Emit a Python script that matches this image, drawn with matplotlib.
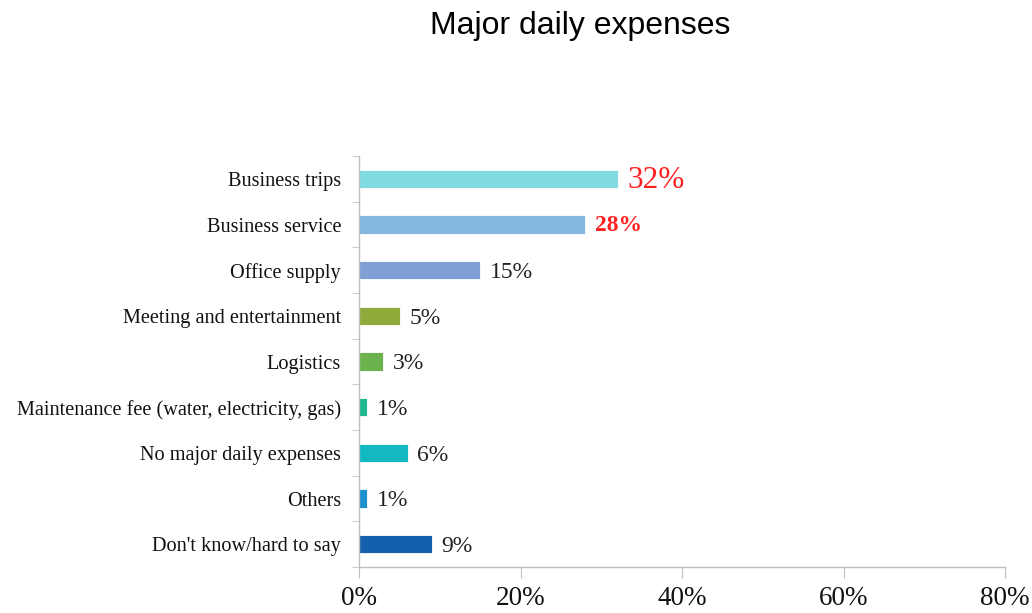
import numpy as np
import matplotlib
matplotlib.use("Agg")
import matplotlib.pyplot as plt

# ── Data ─────────────────────────────────────────────────────────────────────
categories = ["Business trips", "Business service", "Office supply",
              "Meeting and entertainment", "Logistics",
              "Maintenance fee (water, electricity, gas)",
              "No major daily expenses", "Others", "Don't know/hard to say"]
values = [32, 28, 15, 5, 3, 1, 6, 1, 9]
colors = ["#80dae2", "#82b7e2", "#809fd5", "#8fab3c", "#6cb34f",
          "#1db890", "#12b9c1", "#1a90cc", "#1560ac"]
xticks = [0, 20, 40, 60, 80]

SERIF = "Liberation Serif"
AXIS_GRAY = "#bfbfbf"

fig = plt.figure(figsize=(10.32, 6.13), dpi=100)
fig.patch.set_facecolor("white")
ax = fig.add_axes([0.348, 0.075, 0.626, 0.6705])

y = np.arange(len(categories))
ax.barh(y, values, height=0.4, color=colors, edgecolor="white", linewidth=0.6)
ax.set_ylim(len(categories) - 0.5, -0.5)
ax.set_xlim(0, 80)

# value labels
for i, v in enumerate(values):
    if i == 0:
        ax.text(v + 1.2, i + 0.03, f"{v}%", va="center", ha="left", color="#ff2020",
                fontsize=22.5, family=SERIF)
    elif i == 1:
        ax.text(v + 1.2, i + 0.03, f"{v}%", va="center", ha="left", color="#ff2020",
                fontsize=17, fontweight="bold", family=SERIF)
    else:
        ax.text(v + 1.2, i + 0.05, f"{v}%", va="center", ha="left", color="#222222",
                fontsize=17, family=SERIF)

# y axis: labels at bars, ticks at boundaries
ax.set_yticks(y)
ax.set_yticklabels(categories, family=SERIF, fontsize=14.6, color="#111111")
ax.set_yticks(np.arange(len(categories) + 1) - 0.5, minor=True)
ax.tick_params(axis="y", which="major", length=0, pad=13)
ax.tick_params(axis="y", which="minor", length=5, color=AXIS_GRAY, direction="out")

ax.set_xticks(xticks)
ax.set_xticklabels([f"{t}%" for t in xticks], family=SERIF, fontsize=19.5,
                   color="#111111")
ax.tick_params(axis="x", length=8, color=AXIS_GRAY, direction="out", pad=6)

for s in ["top", "right"]:
    ax.spines[s].set_visible(False)
for s in ["left", "bottom"]:
    ax.spines[s].set_color(AXIS_GRAY)
    ax.spines[s].set_linewidth(1.0)

fig.text(0.562, 0.958, "Major daily expenses", ha="center", va="center",
         fontsize=23, family="Liberation Sans", color="#000000")

plt.savefig("out.png", dpi=100, facecolor="white")
plt.close()
